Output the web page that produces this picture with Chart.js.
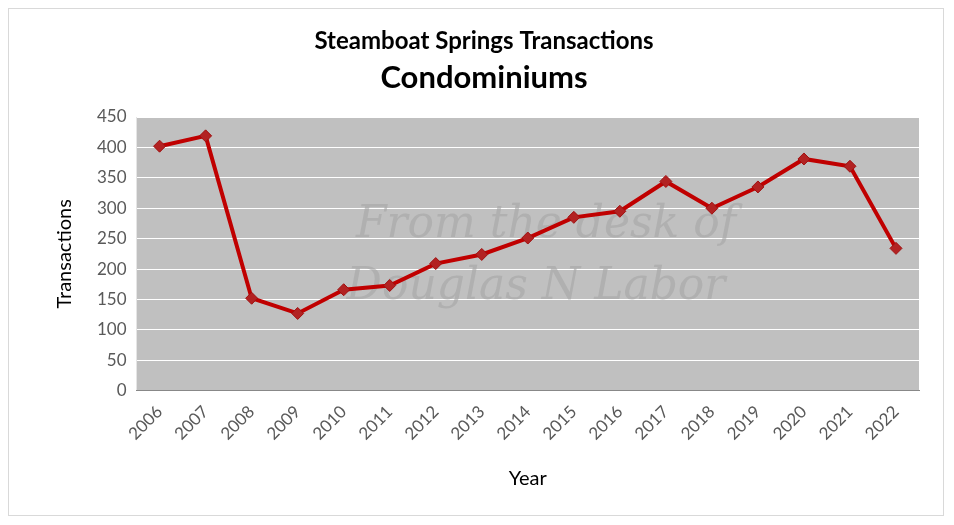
<!DOCTYPE html>
<html><head><meta charset="utf-8">
<script src="https://cdn.jsdelivr.net/npm/chart.js@4"></script>
<style>html,body{margin:0;padding:0;background:#fff}
#wrap{position:absolute;left:8px;top:8px;width:936px;height:508px;border:1px solid #d9d9d9;box-sizing:border-box}
</style></head><body>
<div id="wrap"><canvas id="c" width="934" height="506"></canvas></div>
<script>
const years=["2006","2007","2008","2009","2010","2011","2012","2013","2014","2015","2016","2017","2018","2019","2020","2021","2022"];
const transactions=[402,419,152,127,166,173,209,224,251,285,295,344,300,335,381,369,234];
const yTicks=[0,50,100,150,200,250,300,350,400,450];
const FONT='Lato, "Open Sans", sans-serif';
const bg={id:'bg',beforeDraw(ch){const a=ch.chartArea,x=ch.ctx;x.save();x.fillStyle='#c0c0c0';x.fillRect(a.left,a.top,a.right-a.left,a.bottom-a.top);x.restore();}};
const wm={id:'wm',beforeDatasetsDraw(ch){const x=ch.ctx;x.save();x.font='italic 44px "DejaVu Serif", serif';x.fillStyle='rgba(165,165,165,0.6)';x.textAlign='center';
x.fillText('From the desk of',537,228);x.fillText('Douglas N Labor',527,290);x.restore();}};
new Chart(document.getElementById('c'),{type:'line',
data:{labels:years,datasets:[{data:transactions,borderColor:'#c00000',borderWidth:4,pointStyle:'rectRot',pointRadius:6,pointBackgroundColor:'#b22222',pointBorderColor:'#a01010',pointBorderWidth:1,tension:0}]},
options:{responsive:false,animation:false,devicePixelRatio:1,
layout:{padding:{left:40,right:24,top:6,bottom:20}},
plugins:{legend:{display:false},tooltip:{enabled:false},
title:{display:true,text:['Steamboat Springs Transactions'],font:{family:FONT,size:24,weight:'bold'},color:'#000',padding:{top:12,bottom:0}},
subtitle:{display:true,text:'Condominiums',font:{family:FONT,size:31,weight:'bold'},color:'#000',padding:{top:4,bottom:20}}},
scales:{x:{offset:true,grid:{display:false},border:{color:'#888'},ticks:{color:'#595959',font:{family:FONT,size:17},maxRotation:45,minRotation:45,autoSkip:false},
title:{display:true,text:'Year',color:'#000',font:{family:FONT,size:20},padding:{top:20}}},
y:{min:0,max:450,afterBuildTicks(s){s.ticks=yTicks.map(v=>({value:v}));},grid:{color:'#fff',lineWidth:1,drawTicks:false},border:{display:false},
ticks:{color:'#595959',font:{family:FONT,size:17},padding:10},
title:{display:true,text:'Transactions',color:'#000',font:{family:FONT,size:20},padding:{bottom:10}}}}},
plugins:[bg,wm]});
</script>
</body></html>
